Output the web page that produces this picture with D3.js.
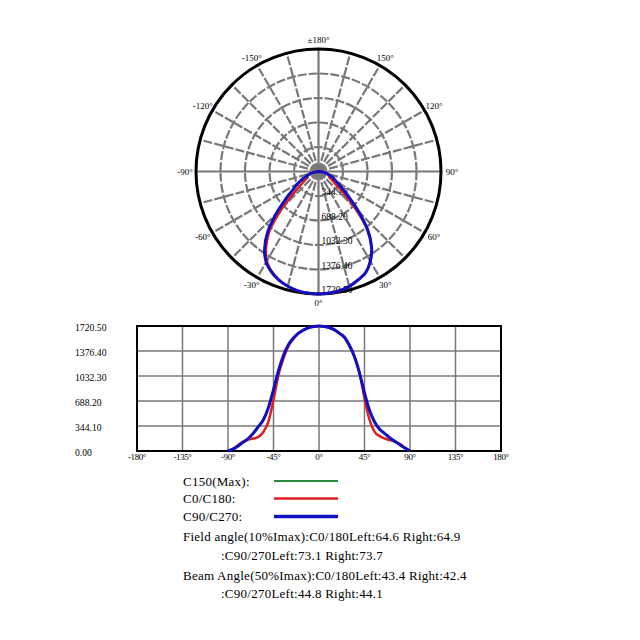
<!DOCTYPE html>
<html>
<head>
<meta charset="utf-8">
<script src="https://cdn.jsdelivr.net/npm/d3@7"></script>
<style>
  html, body { margin: 0; padding: 0; background: #fff; }
  text { font-family: "Liberation Serif", "DejaVu Serif", serif; fill: #000; }
</style>
</head>
<body>
<div id="chart"></div>
<script>
// gamma angles (deg) and intensity (cd)
const angles = [-90,-85,-80,-75,-70,-65,-60,-55,-50,-45,-40,-35,-30,-25,-20,-15,-10,-5,0,
                5,10,15,20,25,30,35,40,45,50,55,60,65,70,75,80,85,90];
const c0c180 = [0,30,80,128,158,172,195,262,405,704,1050,1280,1450,1550,1620,1668,1698,1714,1720,
                1714,1700,1670,1622,1568,1455,1300,1080,725,430,262,205,172,150,130,95,45,0];
const c90c270 = [0,25,70,122,172,245,335,430,600,845,1110,1320,1470,1560,1625,1668,1698,1714,1720,
                 1714,1700,1670,1622,1568,1455,1300,1075,800,560,400,300,240,182,135,86,40,0];

const maxValue = 1720.5;
const valueTicks = [0, 344.1, 688.2, 1032.3, 1376.4, 1720.5];
const angleTicks = [-180, -135, -90, -45, 0, 45, 90, 135, 180];
const polarLabels = [0, 30, 60, 90, 120, 150, 180, -150, -120, -90, -60, -30];

const legendNames = ["C150(Max):", "C0/C180:", "C90/C270:"];
const legendColors = ["#2a8a3a", "#e01e1e", "#1010c0"];
const infoLines = [
  "Field angle(10%Imax):C0/180Left:64.6 Right:64.9",
  ":C90/270Left:73.1 Right:73.7",
  "Beam Angle(50%Imax):C0/180Left:43.4 Right:42.4",
  ":C90/270Left:44.8 Right:44.1"
];

const series = [
  {values: c0c180, color: legendColors[1], width: 2.5},
  {values: c90c270, color: legendColors[2], width: 3}
];

const svg = d3.select("#chart").append("svg")
    .attr("width", 640)
    .attr("height", 640);

// ---------- polar diagram ----------
const cx = 318.5, cy = 171.5, R = 122.5;
const rScale = d3.scaleLinear().domain([0, maxValue]).range([0, R]);
const polar = svg.append("g").attr("transform", `translate(${cx},${cy})`);
const gridGray = "#787878";

// rings at the labelled values
polar.selectAll(".ring")
  .data(valueTicks.slice(1, -1))
  .join("circle")
    .attr("class", "ring")
    .attr("r", d => rScale(d))
    .attr("fill", "none")
    .attr("stroke", gridGray)
    .attr("stroke-width", 2.2)
    .attr("stroke-dasharray", "9,2");

// spokes every 15 degrees
const spokes = d3.range(0, 360, 15);
polar.selectAll(".spoke")
  .data(spokes)
  .join("line")
    .attr("class", "spoke")
    .attr("x1", 0).attr("y1", 0)
    .attr("x2", d => R * Math.sin(d * Math.PI / 180))
    .attr("y2", d => R * Math.cos(d * Math.PI / 180))
    .attr("stroke", gridGray)
    .attr("stroke-width", 2.2)
    .attr("stroke-dasharray", d => d % 90 === 0 ? null : "9,2");

// outer circle
polar.append("circle")
    .attr("r", R)
    .attr("fill", "none")
    .attr("stroke", "#000")
    .attr("stroke-width", 3);

// value labels along the 0 deg spoke
polar.selectAll(".rlabel")
  .data(valueTicks.slice(1))
  .join("text")
    .attr("class", "rlabel")
    .attr("x", 3)
    .attr("y", d => rScale(d) - 1)
    .attr("font-size", 9.5)
    .text(d => d.toFixed(2));

// angle labels
polar.selectAll(".alabel")
  .data(polarLabels)
  .join("text")
    .attr("class", "alabel")
    .attr("x", d => (R + 11) * Math.sin(d * Math.PI / 180))
    .attr("y", d => (R + 9) * Math.cos(d * Math.PI / 180) + 3)
    .attr("text-anchor", "middle")
    .attr("font-size", 9)
    .text(d => d === 180 ? "\u00b1180\u00b0" : d + "\u00b0");

const radialLine = d3.lineRadial()
    .angle(d => Math.PI - d.a * Math.PI / 180)
    .radius(d => rScale(d.v))
    .curve(d3.curveCardinal);

series.forEach(s => {
  polar.append("path")
    .datum(angles.map((a, i) => ({a: a, v: s.values[i]})))
    .attr("fill", "none")
    .attr("stroke", s.color)
    .attr("stroke-width", s.width)
    .attr("d", radialLine);
});

// ---------- cartesian diagram ----------
const xScale = d3.scaleLinear().domain([-180, 180]).range([137, 501]);
const yScale = d3.scaleLinear().domain([0, maxValue]).range([451, 326]);

const plot = svg.append("g");

plot.selectAll(".vgrid")
  .data(angleTicks)
  .join("line")
    .attr("x1", d => xScale(d)).attr("x2", d => xScale(d))
    .attr("y1", yScale(0)).attr("y2", yScale(maxValue))
    .attr("stroke", gridGray)
    .attr("stroke-width", 1.5);

plot.selectAll(".hgrid")
  .data(valueTicks)
  .join("line")
    .attr("x1", xScale(-180)).attr("x2", xScale(180))
    .attr("y1", d => yScale(d)).attr("y2", d => yScale(d))
    .attr("stroke", gridGray)
    .attr("stroke-width", 1.5);

plot.append("rect")
    .attr("x", xScale(-180))
    .attr("y", yScale(maxValue))
    .attr("width", xScale(180) - xScale(-180))
    .attr("height", yScale(0) - yScale(maxValue))
    .attr("fill", "none")
    .attr("stroke", "#000")
    .attr("stroke-width", 2);

plot.selectAll(".ylabel")
  .data(valueTicks)
  .join("text")
    .attr("x", 75)
    .attr("y", d => yScale(d) + 5)
    .attr("font-size", 9.7)
    .text(d => d.toFixed(2));

plot.selectAll(".xlabel")
  .data(angleTicks)
  .join("text")
    .attr("x", d => xScale(d))
    .attr("y", yScale(0) + 9)
    .attr("text-anchor", "middle")
    .attr("font-size", 9)
    .attr("letter-spacing", -0.4)
    .text(d => d + "\u00b0");

const line = d3.line()
    .x(d => xScale(d.a))
    .y(d => yScale(d.v))
    .curve(d3.curveMonotoneX);

series.forEach(s => {
  plot.append("path")
    .datum(angles.map((a, i) => ({a: a, v: s.values[i]})))
    .attr("fill", "none")
    .attr("stroke", s.color)
    .attr("stroke-width", s.width)
    .attr("d", line);
});

// ---------- legend and angle info ----------
const legend = svg.append("g");
const legendY = [481, 498.5, 516.5];
const legendWidths = [2, 2.5, 3.5];

legendNames.forEach((name, i) => {
  legend.append("text")
    .attr("x", 183)
    .attr("y", legendY[i] + 4.5)
    .attr("font-size", 13)
    .attr("letter-spacing", 0.25)
    .text(name);
  legend.append("line")
    .attr("x1", 274).attr("x2", 338)
    .attr("y1", legendY[i]).attr("y2", legendY[i])
    .attr("stroke", legendColors[i])
    .attr("stroke-width", legendWidths[i]);
});

const infoY = [536.5, 555, 575, 593.5];
infoLines.forEach((t, i) => {
  legend.append("text")
    .attr("x", t.startsWith(":") ? 221 : 183)
    .attr("y", infoY[i] + 4.5)
    .attr("font-size", 13)
    .attr("letter-spacing", 0.25)
    .text(t);
});
</script>
</body>
</html>
